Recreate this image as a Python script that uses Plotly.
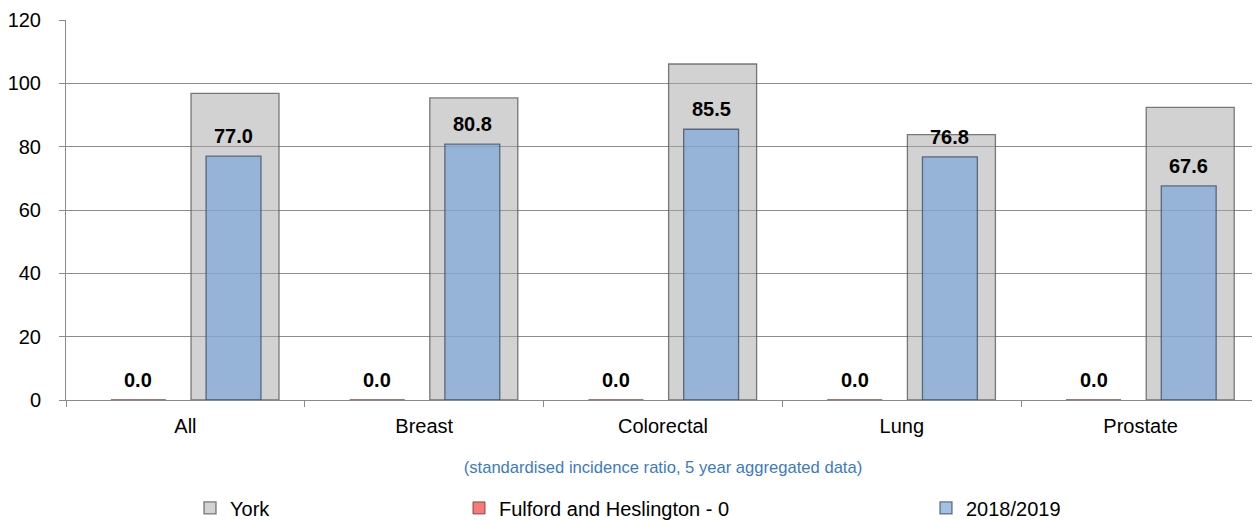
import plotly.graph_objects as go

categories = ["All", "Breast", "Colorectal", "Lung", "Prostate"]
york = [96.8, 95.4, 106.1, 83.8, 92.4]
fulford = [0.0, 0.0, 0.0, 0.0, 0.0]
period_2018_2019 = [77.0, 80.8, 85.5, 76.8, 67.6]
y_ticks = [0, 20, 40, 60, 80, 100, 120]

FONT = "Liberation Sans, Arial, sans-serif"
label_font = dict(family=FONT, size=20, color="black")

fig = go.Figure()

fig.add_trace(go.Bar(
    x=categories, y=york, name="York",
    width=0.3685, offset=0.0235,
    marker=dict(color="rgba(165,165,165,0.5)", line=dict(color="rgba(90,90,90,0.8)", width=1.3)),
    legend="legend", showlegend=True,
))
fig.add_trace(go.Bar(
    x=categories, y=fulford, name="Fulford and Heslington - 0",
    width=0.23, offset=-0.312,
    marker=dict(color="#f47c7c", line=dict(color="rgba(120,40,40,0.8)", width=1)),
    legend="legend2", showlegend=True,
))
fig.add_trace(go.Bar(
    x=categories, y=period_2018_2019, name="2018/2019",
    width=0.23, offset=0.0865,
    marker=dict(color="rgba(123,166,217,0.7)", line=dict(color="rgba(50,65,85,0.7)", width=1.3)),
    legend="legend3", showlegend=True,
))

# value labels (bold) above the bars, placed via the axis scales
cat_px = 1194 / len(categories)
for series, off in ((fulford, -0.197), (period_2018_2019, 0.2015)):
    for cat, val in zip(categories, series):
        fig.add_annotation(
            x=cat, y=val, xref="x", yref="y",
            text="<b>%.1f</b>" % val, showarrow=False,
            xanchor="center", yanchor="bottom",
            xshift=off * cat_px, yshift=7,
            font=label_font,
        )

legend_common = dict(
    orientation="h", yanchor="middle", y=-0.284, xanchor="left",
    font=dict(family=FONT, size=20, color="black"),
    bgcolor="rgba(0,0,0,0)", borderwidth=0,
)

# the page body has an 8px default margin, so the figure is sized 8px smaller
fig.update_layout(
    barmode="overlay",
    showlegend=True,
    width=1252, height=513,
    margin=dict(l=58, r=0, t=12, b=121, autoexpand=False),
    paper_bgcolor="white", plot_bgcolor="white",
    font=dict(family=FONT, size=20, color="black"),
    legend=dict(x=(190 - 66) / 1194, **legend_common),
    legend2=dict(x=(459 - 66) / 1194, **legend_common),
    legend3=dict(x=(926 - 66) / 1194, **legend_common),
    xaxis=dict(
        automargin=False,
        layer="above traces",
        showline=True, linecolor="#8a8a8a", linewidth=1,
        ticks="outside", tickson="boundaries", ticklen=6, tickcolor="#8a8a8a",
        tickfont=dict(family=FONT, size=20, color="black"),
        ticklabelstandoff=8,
        title=dict(text="(standardised incidence ratio, 5 year aggregated data)",
                   font=dict(family=FONT, size=16.6, color="#3b7bbf"), standoff=25),
        showgrid=False,
    ),
    yaxis=dict(
        automargin=False,
        range=[0, 120], tickvals=y_ticks,
        showline=True, linecolor="#8a8a8a", linewidth=1,
        ticks="outside", ticklen=6, tickcolor="#8a8a8a",
        showgrid=True, gridcolor="#8c8c8c", gridwidth=1,
        zeroline=False,
        tickfont=dict(family=FONT, size=20, color="black"),
        ticklabelstandoff=14,
    ),
)

fig.write_html("out.html")
